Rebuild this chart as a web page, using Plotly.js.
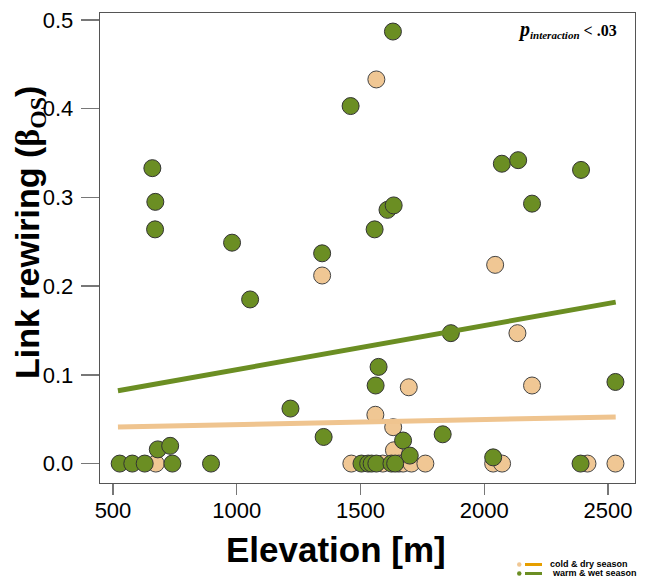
<!DOCTYPE html>
<html><head><meta charset="utf-8">
<script src="https://cdn.plot.ly/plotly-3.0.1.min.js"></script>
<style>body{margin:0;background:#fff}#plot{width:645px;height:577px}</style>
</head><body><div id="plot"></div>
<script>
// Elevation [m] and link rewiring values
const warmElev = [1631,1460,659,671,670,981,1054,1345,1557,1609,1634,2071,2137,2391,2193,1865,1217,1351,1573,1561,1672,1699,1832,2036,2530,2389,527,578,628,740,896,681,731,1504,1531,1545,1564,1625,1640];
const warmRew  = [0.487,0.403,0.333,0.295,0.264,0.249,0.185,0.237,0.264,0.286,0.291,0.338,0.342,0.331,0.293,0.147,0.062,0.030,0.109,0.088,0.026,0.009,0.033,0.007,0.092,0,0,0,0,0,0,0.016,0.020,0,0,0,0,0,0];
const coldElev = [1564,1345,2044,2134,2193,1695,1560,1632,1635,673,1463,1590,1655,1672,1706,1762,2036,2072,2417,2530];
const coldRew  = [0.433,0.212,0.224,0.147,0.088,0.086,0.055,0.041,0.015,0,0,0,0,0,0,0,0,0,0,0];
// fitted regression lines
const fitElev = [520,2531];
const warmFit = [0.082,0.182];
const coldFit = [0.0413,0.0526];
const xTicks = [500,1000,1500,2000,2500];
const yTicks = [0.0,0.1,0.2,0.3,0.4,0.5];
const yTickText = ['0.0','0.1','0.2','0.3','0.4','0.5'];
const legendLabels = ['cold &amp; dry season','warm &amp; wet season'];

const green = '#6B8E23', tan = '#F0C794';
const traces = [
  {x: coldElev, y: coldRew, mode:'markers', type:'scatter', marker:{size:17, color:tan, line:{color:'#444', width:1}}, hoverinfo:'skip'},
  {x: warmElev, y: warmRew, mode:'markers', type:'scatter', marker:{size:17, color:green, line:{color:'#333', width:1}}, hoverinfo:'skip'},
  {x: fitElev, y: coldFit, mode:'lines', type:'scatter', line:{color:'#EFC48F', width:5}, hoverinfo:'skip'},
  {x: fitElev, y: warmFit, mode:'lines', type:'scatter', line:{color:green, width:5}, hoverinfo:'skip'}
];
const W=645,H=577, L=100, R=10, T=13, B=94;
const pw = W-L-R, ph = H-T-B;
const px = v => (v-L)/pw, py = v => 1-(v-T)/ph;
const serif = 'font-family:Liberation Serif, Times New Roman, serif';
const layout = {
  width:W, height:H, showlegend:false,
  paper_bgcolor:'#fff', plot_bgcolor:'#fff',
  margin:{l:L,r:R,t:T,b:B},
  font:{family:'Liberation Sans, Arial, sans-serif', color:'#000'},
  xaxis:{range:[447.5,2609], tickvals:xTicks, ticktext:xTicks.map(String), showgrid:false, zeroline:false,
    showline:true, mirror:true, linecolor:'#555', linewidth:1.3, ticks:'outside', ticklen:11, tickcolor:'#777', tickwidth:1.3,
    tickfont:{size:22, color:'#000'}, ticklabelstandoff:-4},
  yaxis:{range:[-0.0219,0.5079], tickvals:yTicks, ticktext:yTickText, showgrid:false, zeroline:false,
    showline:true, mirror:true, linecolor:'#555', linewidth:1.3, ticks:'outside', ticklen:18, tickcolor:'#777', tickwidth:1.3,
    tickfont:{size:22, color:'#000'}, ticklabelstandoff:3},
  shapes:[
    {type:'line', xref:'paper', yref:'paper', x0:px(525), x1:px(542), y0:py(564.5), y1:py(564.5), line:{color:'#E69F00', width:3}},
    {type:'line', xref:'paper', yref:'paper', x0:px(525), x1:px(542), y0:py(573.5), y1:py(573.5), line:{color:green, width:3}},
    {type:'circle', xref:'paper', yref:'paper', x0:px(517), x1:px(521.5), y0:py(562.3), y1:py(566.8), fillcolor:tan, line:{width:0}},
    {type:'circle', xref:'paper', yref:'paper', x0:px(517), x1:px(521.5), y0:py(571.3), y1:py(575.8), fillcolor:green, line:{width:0}}
  ],
  annotations:[
    {xref:'paper', yref:'paper', x:px(336), y:py(549), text:'<b>Elevation [m]</b>', showarrow:false, xanchor:'center', yanchor:'middle', font:{size:35, color:'#000'}},
    {xref:'paper', yref:'paper', x:px(29), y:py(233), text:'<b>Link rewiring (<span style="'+serif+'">β<sub>OS</sub></span>)</b>', textangle:-90, showarrow:false, xanchor:'center', yanchor:'middle', font:{size:34, color:'#000'}},
    {xref:'paper', yref:'paper', x:px(619), y:py(29), text:'<b><i><span style="font-size:20px">p</span></i></b><sub><b><i><span style="font-size:11px">interaction</span></i></b></sub><b> &lt; .03</b>', showarrow:false, xanchor:'right', yanchor:'middle', font:{family:'Liberation Serif, Times New Roman, serif', size:16, color:'#000'}},
    {xref:'paper', yref:'paper', x:px(549), y:py(564), text:'<b>'+legendLabels[0]+'</b>', showarrow:false, xanchor:'left', yanchor:'middle', borderpad:0, font:{size:9, color:'#000'}},
    {xref:'paper', yref:'paper', x:px(551), y:py(573), text:'<b>'+legendLabels[1]+'</b>', showarrow:false, xanchor:'left', yanchor:'middle', borderpad:0, font:{size:9, color:'#000'}}
  ]
};
Plotly.newPlot('plot', traces, layout, {staticPlot:true, displayModeBar:false});
</script></body></html>
